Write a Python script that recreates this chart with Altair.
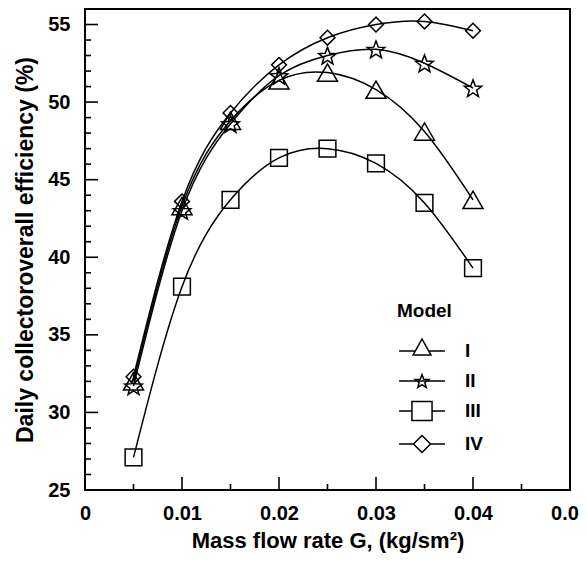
import math
import altair as alt
import pandas as pd

# ---- data ----
G = [0.005, 0.010, 0.015, 0.020, 0.025, 0.030, 0.035, 0.040]
model_I = [32.0, 43.3, 48.8, 51.4, 51.9, 50.8, 48.1, 43.7]
model_II = [31.7, 43.0, 48.6, 51.7, 53.0, 53.4, 52.5, 50.9]
model_III = [27.1, 38.1, 43.7, 46.4, 47.0, 46.05, 43.5, 39.3]
model_IV = [32.3, 43.6, 49.3, 52.4, 54.15, 55.0, 55.2, 54.6]
models = ["I", "II", "III", "IV"]

x_major = [0.01, 0.02, 0.03, 0.04]
x_minor = [0.005, 0.015, 0.025, 0.035, 0.045]
x_labels = [0, 0.01, 0.02, 0.03, 0.04, 0.05]
y_major = [30, 35, 40, 45, 50, 55]
y_minor = [26, 27, 28, 29, 31, 32, 33, 34, 36, 37, 38, 39, 41, 42, 43, 44,
           46, 47, 48, 49, 51, 52, 53, 54]
y_labels = [25, 30, 35, 40, 45, 50, 55]
X_MIN, X_MAX = 0, 0.05
Y_MIN, Y_MAX = 25, 56

rows = []
for name, vals in zip(models, [model_I, model_II, model_III, model_IV]):
    for g, v in zip(G, vals):
        rows.append({"G": g, "eff": v, "model": name, "kind": "data"})
for v in x_major:
    rows.append({"G": v, "eff": Y_MIN, "model": "t", "kind": "xmaj"})
for v in x_minor:
    rows.append({"G": v, "eff": Y_MIN, "model": "t", "kind": "xmin"})
for v in y_major:
    rows.append({"G": X_MIN, "eff": v, "model": "t", "kind": "ymaj"})
for v in y_minor:
    rows.append({"G": X_MIN, "eff": v, "model": "t", "kind": "ymin"})
df = pd.DataFrame(rows)

W, H = 485, 481
FONT = "Liberation Sans"

xs = alt.Scale(domain=[X_MIN, X_MAX], nice=False, zero=False)
ys = alt.Scale(domain=[Y_MIN, Y_MAX], nice=False, zero=False)

x_axis = alt.Axis(title="Mass flow rate G, (kg/sm²)", values=x_labels,
                  labelExpr="datum.value == 0 ? '0' : format(datum.value, '.2f')",
                  labelFlush=False, labelPadding=13, titlePadding=7)
y_axis = alt.Axis(title="Daily collectoroverall efficiency (%)", values=y_labels,
                  format="d", labelPadding=15, titlePadding=10)


def star_path(ro, ri, dy=0.0):
    pts = []
    for k in range(10):
        r = ro if k % 2 == 0 else ri
        a = -math.pi / 2 + k * math.pi / 5
        pts.append(f"{r*math.cos(a):.3f},{r*math.sin(a) + dy:.3f}")
    return "M" + "L".join(pts) + "Z"


# plot marker shapes
shape_scale = alt.Scale(domain=models,
                        range=["triangle-up", star_path(1.0, 0.42, 0.1), "square", "diamond"])
size_scale = alt.Scale(domain=models, range=[400, 220, 330, 300])

# legend symbols: line with a shape on it (unit box scaled by sqrt(size)/2)
L = 1.53
leg_paths = [
    f"M{-L},0H-0.45M0.45,0H{L}M-0.6,0.27L0,-0.8L0.6,0.27Z",
    f"M{-L},0H{L}" + star_path(0.48, 0.2, 0.05),
    f"M{-L},0H-0.67M0.67,0H{L}M-0.67,-0.64H0.67V0.64H-0.67Z",
    f"M{-L},0H-0.57M0.57,0H{L}M-0.57,0L0,-0.57L0.57,0L0,0.57Z",
]

base = alt.Chart(df)
curves = base.transform_filter("datum.kind == 'data'")

lines = curves.mark_line(interpolate="natural", color="black", strokeWidth=1.5).encode(
    x=alt.X("G:Q", scale=xs, axis=x_axis),
    y=alt.Y("eff:Q", scale=ys, axis=y_axis),
    detail="model:N",
)

points = curves.mark_point(filled=False, color="black", strokeWidth=1.5, opacity=1).encode(
    x=alt.X("G:Q", scale=xs),
    y=alt.Y("eff:Q", scale=ys),
    shape=alt.Shape("model:N", scale=shape_scale, legend=None),
    size=alt.Size("model:N", scale=size_scale, legend=None),
)

legend_layer = base.transform_filter("false").mark_point(
    filled=False, color="black", strokeWidth=1.5, opacity=1
).encode(
    x=alt.X("G:Q", scale=xs),
    y=alt.Y("eff:Q", scale=ys),
    shape=alt.Shape(
        "model:N",
        scale=alt.Scale(domain=models, range=leg_paths),
        legend=alt.Legend(
            title="Model", orient="none", legendX=312, legendY=293,
            titleFont=FONT, titleFontSize=19, titleFontWeight="bold",
            titleColor="black", titlePadding=14,
            labelFont=FONT, labelFontSize=19, labelFontWeight="bold",
            labelColor="black", labelOffset=27,
            symbolSize=900, symbolStrokeWidth=1.5, symbolStrokeColor="black",
            symbolFillColor="white", symbolOffset=9, rowPadding=4, padding=0,
        ),
    ),
)


# inward ticks: line-shaped symbols anchored on the frame edges through the scales
def tick_layer(kind, path, size):
    return base.transform_filter(f"datum.kind == '{kind}'").mark_point(
        filled=False, color="black", strokeWidth=1.6, opacity=1
    ).encode(
        x=alt.X("G:Q", scale=xs),
        y=alt.Y("eff:Q", scale=ys),
        shape=alt.value(path),
        size=alt.value(size),
    )


xmaj = tick_layer("xmaj", "M0,0V-1", 676)
xmin = tick_layer("xmin", "M0,0V-1", 144)
ymaj = tick_layer("ymaj", "M0,0H1", 676)
ymin = tick_layer("ymin", "M0,0H1", 144)

chart = alt.layer(lines, points, legend_layer, xmaj, xmin, ymaj, ymin).resolve_scale(
    shape="independent"
).properties(
    width=W, height=H,
    autosize=alt.AutoSizeParams(type="none"),
    padding={"left": 77, "top": 1, "right": 9, "bottom": 63},
    background="white",
).configure_view(
    stroke="black", strokeWidth=2,
).configure_axis(
    grid=False, domain=False, ticks=False, tickSize=0,
    labelFont=FONT, labelFontSize=20, labelFontWeight="bold", labelColor="black",
    titleFont=FONT, titleFontWeight="bold", titleColor="black",
).configure_axisX(titleFontSize=22).configure_axisY(titleFontSize=23)

chart.save("out.html", embed_options={"renderer": "svg", "actions": False})
